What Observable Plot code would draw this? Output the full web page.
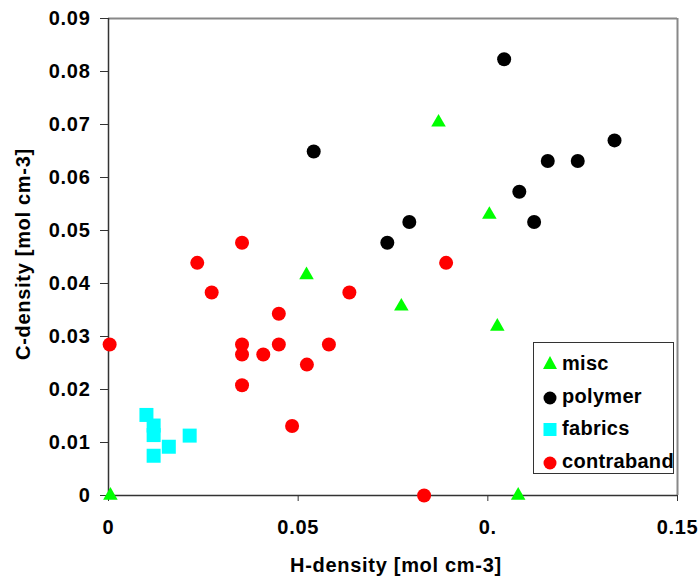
<!DOCTYPE html>
<html><head><meta charset="utf-8">
<script src="https://cdn.jsdelivr.net/npm/d3@7"></script>
<script src="https://cdn.jsdelivr.net/npm/@observablehq/plot@0.6"></script>
<style>
body{margin:0;background:#fff;}
#wrap{position:relative;width:699px;height:576px;font-family:"Liberation Sans",Arial,sans-serif;}
#legend{position:absolute;left:533px;top:342px;width:141px;height:132px;border:1px solid #333;background:#fff;box-sizing:border-box;}
</style></head><body><div id="wrap"><div id="legend"></div></div>
<script>
// Series metadata
const seriesNames = ["misc", "polymer", "fabrics", "contraband"];
const seriesColors = ["#00ff00", "#000000", "#00ffff", "#ff0000"];
const seriesSymbols = ["triangle", "circle", "square", "circle"];

// Data: H-density (x) and C-density (y)
const miscH = [0.0005, 0.087, 0.0522, 0.0772, 0.1004, 0.1025, 0.108];
const miscC = [0, 0.0704, 0.0416, 0.0357, 0.053, 0.0319, 0];

const polymerH = [0.1043, 0.0541, 0.0735, 0.0793, 0.1083, 0.1122, 0.1158, 0.1237, 0.1334];
const polymerC = [0.0823, 0.0649, 0.0477, 0.0516, 0.0573, 0.0516, 0.0631, 0.0631, 0.067];

const fabricsH = [0.0100, 0.0119, 0.0119, 0.0119, 0.0159, 0.0214];
const fabricsC = [0.0152, 0.0132, 0.0114, 0.0075, 0.0092, 0.0113];

const contrabandH = [0.0003, 0.0234, 0.0272, 0.0352, 0.0352, 0.0352, 0.0352, 0.0408, 0.0449, 0.0449, 0.0484, 0.0523, 0.0581, 0.0635, 0.089, 0.0832];
const contrabandC = [0.0285, 0.0439, 0.0383, 0.0477, 0.0285, 0.0266, 0.0208, 0.0266, 0.0343, 0.0285, 0.0131, 0.0247, 0.0285, 0.0383, 0.0439, 0];

// Axis ticks
const xTicks = [0, 0.05, 0.1, 0.15];
const xTickLabels = ["0", "0.05", "0.", "0.15"];
const yTicks = [0, 0.01, 0.02, 0.03, 0.04, 0.05, 0.06, 0.07, 0.08, 0.09];
const yTickLabels = ["0", "0.01", "0.02", "0.03", "0.04", "0.05", "0.06", "0.07", "0.08", "0.09"];
const xTitle = "H-density [mol cm-3]";
const yTitle = "C-density [mol cm-3]";

const seriesH = [miscH, polymerH, fabricsH, contrabandH];
const seriesC = [miscC, polymerC, fabricsC, contrabandC];
const symR = {triangle: 5.4, circle: 7, square: 7.9};

const dotMarks = seriesNames.map((name, i) => {
  const data = seriesH[i].map((h, j) => ({h, c: seriesC[i][j], series: name}));
  return Plot.dot(data, {x: "h", y: "c", fill: seriesColors[i], stroke: "none", symbol: seriesSymbols[i], r: symR[seriesSymbols[i]]});
});

const chart = Plot.plot({
  width: 699,
  height: 576,
  marginLeft: 108,
  marginRight: 22,
  marginTop: 18,
  marginBottom: 81,
  style: {fontFamily: "'Liberation Sans', Arial, sans-serif", fontSize: "20px", fontWeight: "bold", letterSpacing: "0.7px", color: "#000", background: "#fff", overflow: "visible"},
  x: {domain: [0, 0.15]},
  y: {domain: [0, 0.09]},
  marks: [
    Plot.ruleY([0.09], {stroke: "#888", strokeWidth: 2}),
    Plot.ruleX([0.15], {stroke: "#888", strokeWidth: 2}),
    Plot.axisX({ticks: xTicks, tickFormat: (d) => xTickLabels[xTicks.indexOf(d)], tickSize: 6, tickPadding: 18, stroke: "#333", label: null}),
    Plot.axisY({ticks: yTicks, tickFormat: (d) => yTickLabels[yTicks.indexOf(d)], tickSize: 8, tickPadding: 10, stroke: "#333", label: null}),
    Plot.ruleX([0], {stroke: "#333", strokeWidth: 1.5}),
    Plot.ruleY([0], {stroke: "#333", strokeWidth: 1.5}),
    Plot.text([xTitle], {frameAnchor: "bottom", dy: 70, dx: 3, textAnchor: "middle", lineAnchor: "middle", text: (d) => d, fontSize: 20, letterSpacing: "1px"}),
    Plot.text([yTitle], {frameAnchor: "left", dx: -85, dy: -3, rotate: -90, textAnchor: "middle", lineAnchor: "middle", text: (d) => d, fontSize: 20, letterSpacing: "1px"}),
    ...dotMarks
  ]
});
document.getElementById("wrap").prepend(chart);

// Legend
const rowY = [20, 53, 85, 118];
let svg = `<svg width="140" height="131" style="position:absolute;left:0;top:0;overflow:visible">`;
seriesNames.forEach((name, i) => {
  const cx = 16, cy = rowY[i];
  const sym = seriesSymbols[i];
  const color = seriesColors[i];
  if (sym === "triangle") svg += `<path d="M${cx},${cy - 7}L${cx + 7},${cy + 6}L${cx - 7},${cy + 6}Z" fill="${color}"/>`;
  else if (sym === "circle") svg += `<circle cx="${cx}" cy="${cy + 2}" r="6.5" fill="${color}"/>`;
  else svg += `<rect x="${cx - 6.5}" y="${cy - 5}" width="13" height="13" fill="${color}"/>`;
  svg += `<text x="28" y="${cy}" dy="0.35em" font-size="20" font-weight="bold" letter-spacing="0.3px" font-family="'Liberation Sans', Arial, sans-serif">${name}</text>`;
});
svg += `</svg>`;
document.getElementById("legend").innerHTML = svg;
</script>
</body></html>
